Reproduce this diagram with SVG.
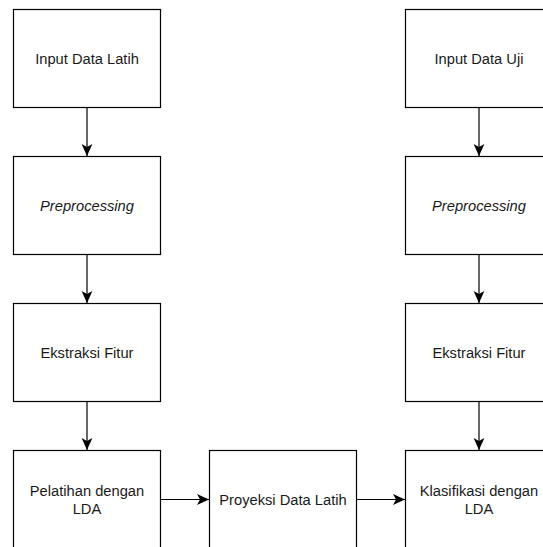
<svg xmlns="http://www.w3.org/2000/svg" width="543" height="547" viewBox="0 0 543 547">
<style>
.box{fill:#fff;stroke:#000;stroke-width:1.2}
.lbl{font-family:"Liberation Sans",Arial,sans-serif;font-size:14.7px;fill:#1a1a1a;text-anchor:middle}
.it{font-style:italic}
.con{stroke:#000;stroke-width:1.2;fill:none;marker-end:url(#ah)}
</style>
<defs>
<marker id="ah" markerUnits="userSpaceOnUse" markerWidth="12" markerHeight="12" refX="10" refY="5" orient="auto" viewBox="0 0 10 10">
<path d="M0,0.5 L10,5 L0,9.5 L2.5,5 Z" fill="#000"/>
</marker>
</defs>
<rect width="543" height="547" fill="#fff"/>
<g id="connectors">
<line class="con" x1="87" y1="107.5" x2="87" y2="156"/>
<line class="con" x1="87" y1="254.5" x2="87" y2="303"/>
<line class="con" x1="87" y1="401.5" x2="87" y2="450"/>
<line class="con" x1="479" y1="107.5" x2="479" y2="156"/>
<line class="con" x1="479" y1="254.5" x2="479" y2="303"/>
<line class="con" x1="479" y1="401.5" x2="479" y2="450"/>
<line class="con" x1="160.5" y1="499.5" x2="209" y2="499.5"/>
<line class="con" x1="356.5" y1="499.5" x2="405" y2="499.5"/>
</g>
<g id="n-input-latih"><rect class="box" x="13.5" y="9.5" width="147" height="98"/><text class="lbl" x="87" y="64">Input Data Latih</text></g>
<g id="n-pre-latih"><rect class="box" x="13.5" y="156.5" width="147" height="98"/><text class="lbl it" x="87" y="211">Preprocessing</text></g>
<g id="n-ekstraksi-latih"><rect class="box" x="13.5" y="303.5" width="147" height="98"/><text class="lbl" x="87" y="358">Ekstraksi Fitur</text></g>
<g id="n-pelatihan"><rect class="box" x="13.5" y="450.5" width="147" height="98"/><text class="lbl" x="87" y="496">Pelatihan dengan</text><text class="lbl" x="87" y="514">LDA</text></g>
<g id="n-proyeksi"><rect class="box" x="209.5" y="450.5" width="147" height="98"/><text class="lbl" x="283" y="505">Proyeksi Data Latih</text></g>
<g id="n-input-uji"><rect class="box" x="405.5" y="9.5" width="147" height="98"/><text class="lbl" x="479" y="64">Input Data Uji</text></g>
<g id="n-pre-uji"><rect class="box" x="405.5" y="156.5" width="147" height="98"/><text class="lbl it" x="479" y="211">Preprocessing</text></g>
<g id="n-ekstraksi-uji"><rect class="box" x="405.5" y="303.5" width="147" height="98"/><text class="lbl" x="479" y="358">Ekstraksi Fitur</text></g>
<g id="n-klasifikasi"><rect class="box" x="405.5" y="450.5" width="147" height="98"/><text class="lbl" x="479" y="496">Klasifikasi dengan</text><text class="lbl" x="479" y="514">LDA</text></g>
</svg>
